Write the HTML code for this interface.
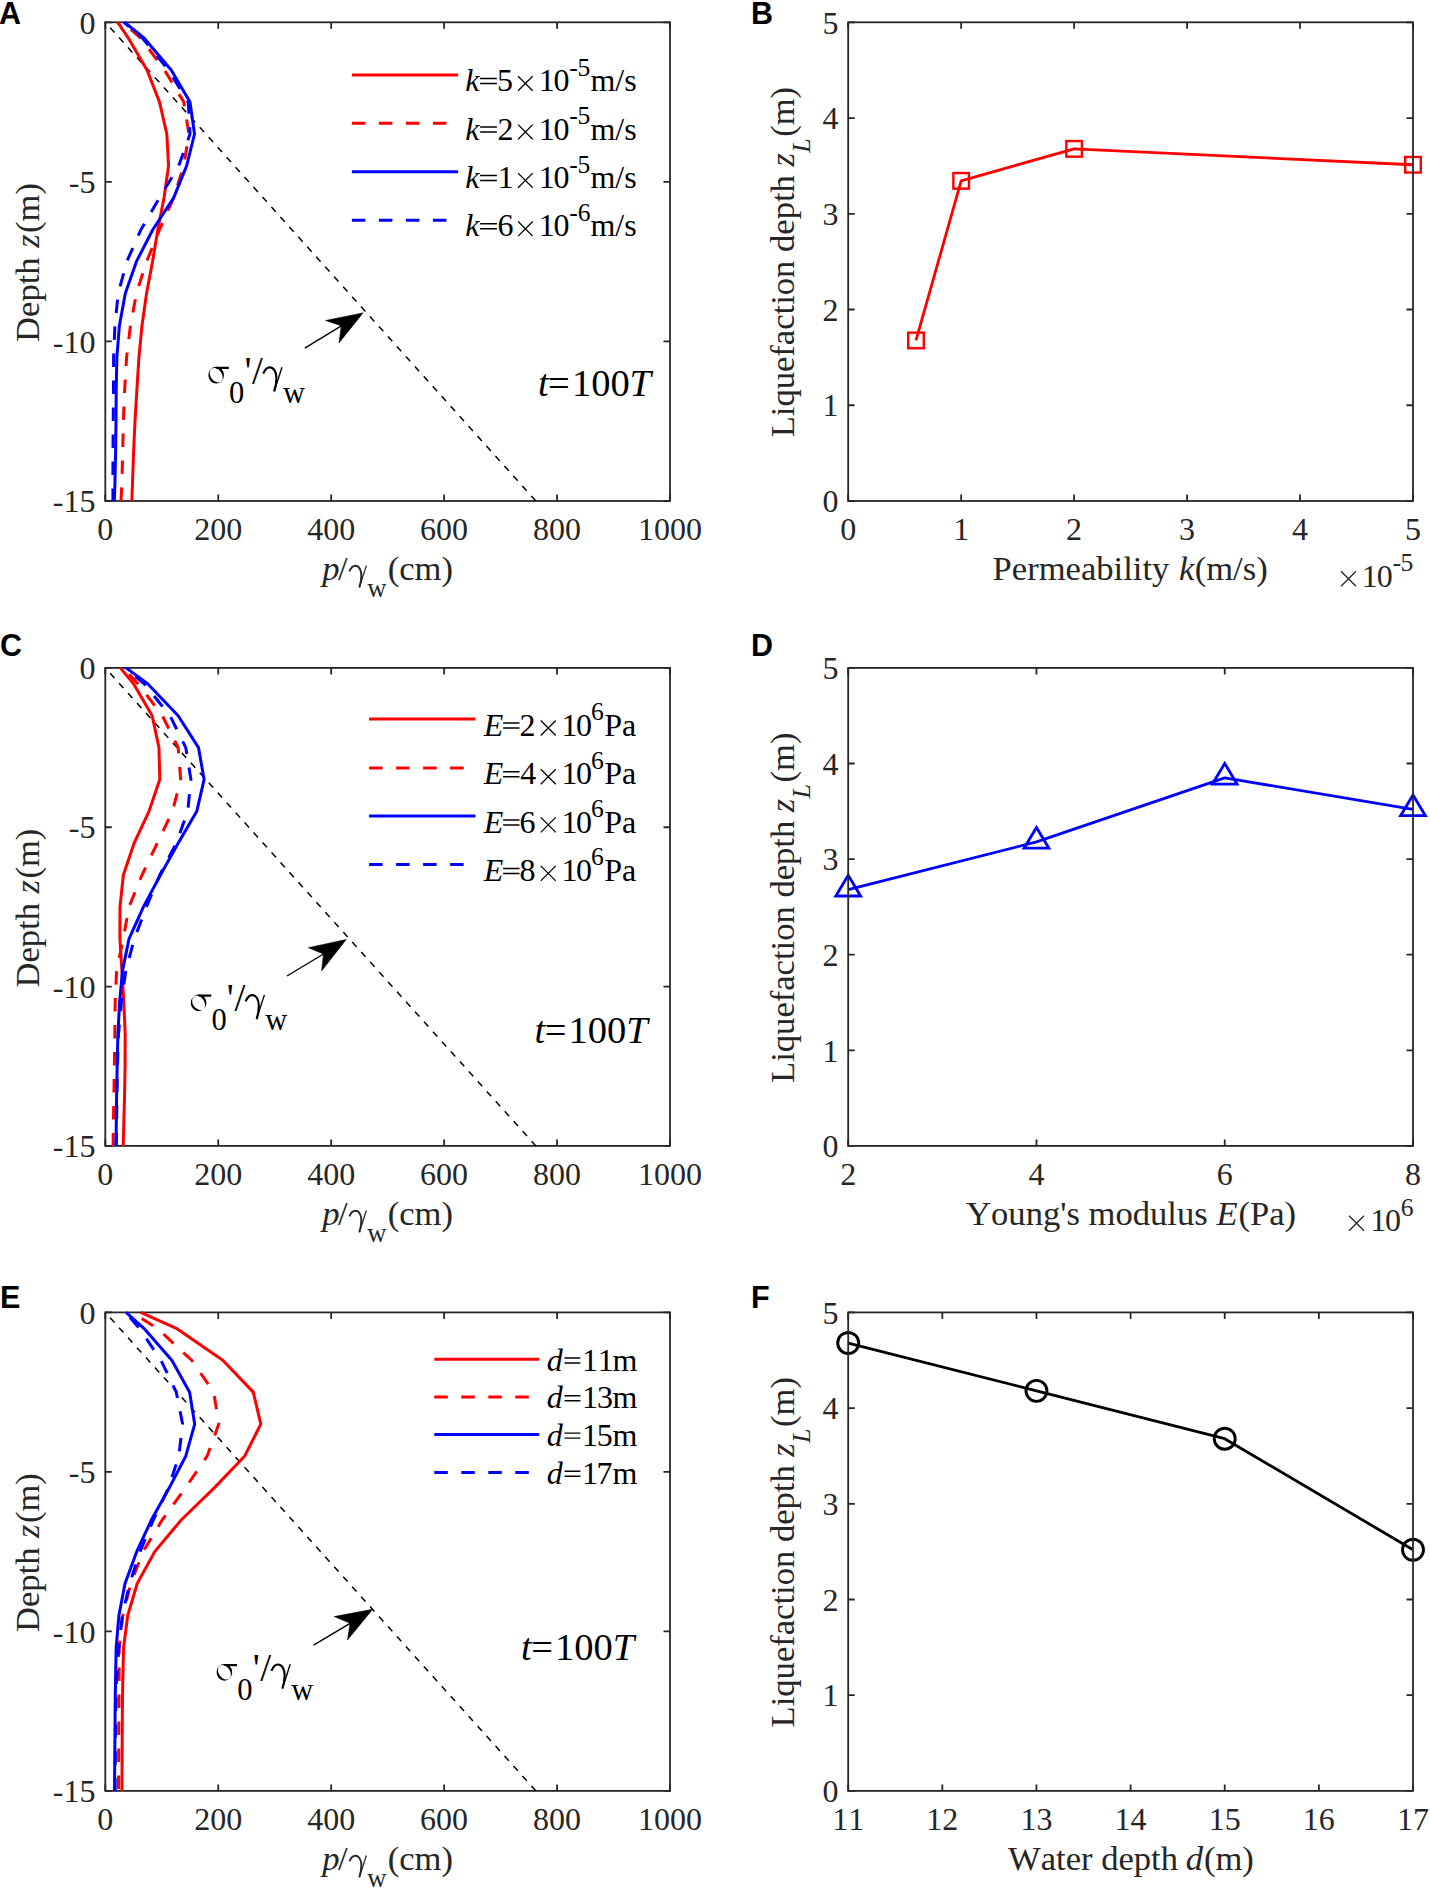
<!DOCTYPE html><html><head><meta charset="utf-8"><style>html,body{margin:0;padding:0;background:#fff;width:1430px;height:1888px;overflow:hidden}svg{display:block}text{font-kerning:none}</style></head><body>
<svg width="1430" height="1888" viewBox="0 0 1430 1888">
<rect width="1430" height="1888" fill="#fff"/>
<text x="-0.96" y="24.10" style='font-family:"Liberation Sans",sans-serif;font-weight:bold;font-size:30.50px' fill="#000">A</text>
<text x="750.96" y="24.10" style='font-family:"Liberation Sans",sans-serif;font-weight:bold;font-size:30.50px' fill="#000">B</text>
<text x="0.05" y="656.20" style='font-family:"Liberation Sans",sans-serif;font-weight:bold;font-size:30.50px' fill="#000">C</text>
<text x="751.06" y="655.80" style='font-family:"Liberation Sans",sans-serif;font-weight:bold;font-size:30.50px' fill="#000">D</text>
<text x="0.06" y="1307.80" style='font-family:"Liberation Sans",sans-serif;font-weight:bold;font-size:30.50px' fill="#000">E</text>
<text x="751.06" y="1307.80" style='font-family:"Liberation Sans",sans-serif;font-weight:bold;font-size:30.50px' fill="#000">F</text>
<rect x="105.30" y="22.30" width="564.70" height="478.70" fill="none" stroke="#262626" stroke-width="1.80"/>
<path d="M105.30 501.00v-6.50M105.30 22.30v6.50M218.24 501.00v-6.50M218.24 22.30v6.50M331.18 501.00v-6.50M331.18 22.30v6.50M444.12 501.00v-6.50M444.12 22.30v6.50M557.06 501.00v-6.50M557.06 22.30v6.50M670.00 501.00v-6.50M670.00 22.30v6.50M105.30 22.30h6.50M670.00 22.30h-6.50M105.30 181.87h6.50M670.00 181.87h-6.50M105.30 341.43h6.50M670.00 341.43h-6.50M105.30 501.00h6.50M670.00 501.00h-6.50" stroke="#262626" stroke-width="1.80" fill="none"/>
<path d="M105.30 22.30 L535.88 501.00" fill="none" stroke="#000" stroke-width="1.50" stroke-linejoin="round" stroke-linecap="butt" stroke-dasharray="6.5 6.9" stroke-dashoffset="6.20"/>
<path d="M117.72 22.30 L128.45 38.26 L147.09 70.17 L159.51 102.08 L166.85 134.00 L168.55 165.91 L164.03 197.82 L157.82 229.74 L152.51 261.65 L146.52 293.56 L142.01 325.48 L138.90 357.39 L136.92 389.30 L135.00 421.22 L133.53 453.13 L132.41 485.04 L131.84 501.00" fill="none" stroke="#ff0000" stroke-width="3.00" stroke-linejoin="round" stroke-linecap="butt"/>
<path d="M122.81 22.30 L140.88 38.26 L164.59 70.17 L183.79 102.08 L188.88 134.00 L183.79 165.91 L173.63 197.82 L159.51 229.74 L146.52 261.65 L136.36 293.56 L130.49 325.48 L126.59 357.39 L124.67 389.30 L123.37 421.22 L122.69 453.13 L121.79 485.04 L121.00 501.00" fill="none" stroke="#ff0000" stroke-width="3.00" stroke-linejoin="round" stroke-linecap="butt" stroke-dasharray="13.5 13.5" stroke-dashoffset="16.20"/>
<path d="M124.78 22.30 L144.26 38.26 L171.37 70.17 L190.00 102.08 L194.52 134.00 L186.62 165.91 L173.63 197.82 L152.73 229.74 L136.36 261.65 L125.29 293.56 L119.42 325.48 L116.88 357.39 L116.20 389.30 L116.03 421.22 L115.58 453.13 L114.90 485.04 L114.34 501.00" fill="none" stroke="#0000ff" stroke-width="3.00" stroke-linejoin="round" stroke-linecap="butt"/>
<path d="M123.94 22.30 L142.57 38.26 L168.55 70.17 L188.31 102.08 L190.00 134.00 L178.71 165.91 L159.51 197.82 L140.88 229.74 L126.76 261.65 L118.18 293.56 L114.90 325.48 L113.60 357.39 L113.49 389.30 L113.21 421.22 L112.98 453.13 L112.92 485.04 L112.92 501.00" fill="none" stroke="#0000ff" stroke-width="3.00" stroke-linejoin="round" stroke-linecap="butt" stroke-dasharray="13.5 13.5" stroke-dashoffset="6.80"/>
<path d="M304.80 348.20L341.30 325.80" stroke="#000" stroke-width="1.4" fill="none"/>
<path d="M363.00 312.90L325.60 320.50L341.30 325.80L339.10 342.80Z" fill="#000" stroke="#000" stroke-width="0.6"/>
<g transform="translate(208.40,383.60)" fill="#000"><path fill-rule="evenodd" d="M7.8 -16.8A7.8 8.4 0 1 0 7.8 0A7.8 8.4 0 1 0 7.8 -16.8ZM7.8 -15.3A4.9 6.9 -35 1 1 7.8 -1.5A4.9 6.9 -35 1 1 7.8 -15.3Z"/><path d="M7 -16.8H20.6L20.3 -14.5L8.2 -14.6Z"/></g>
<text x="229.04" y="402.60" style='font-family:"Liberation Serif",serif;font-size:30.50px' fill="#000">0</text>
<text x="244.46" y="383.60" style='font-family:"Liberation Serif",serif;font-size:39.00px' fill="#000">&#39;</text>
<text x="252.00" y="383.60" style='font-family:"Liberation Serif",serif;font-size:39.00px' fill="#000">/</text>
<g transform="translate(262.90,383.60) scale(1.110)" fill="none" stroke="#000"><path d="M0.3 -8.9C1.8 -12.6 4 -14.6 6.2 -14.6C10 -14.6 12.2 -10 12.2 -5C12.2 0 11 4.5 10.2 7" stroke-width="1.9"/><path d="M17.2 -14.8L10.2 7" stroke-width="1.25"/></g>
<text x="282.97" y="402.60" style='font-family:"Liberation Serif",serif;font-size:30.50px' fill="#000">w</text>
<text x="537.91" y="395.80" style='font-family:"Liberation Serif",serif;font-style:italic;font-size:38.50px' fill="#000">t</text>
<text x="548.08" y="395.80" style='font-family:"Liberation Serif",serif;font-size:38.50px' fill="#000">=</text>
<text x="571.91" y="395.80" style='font-family:"Liberation Serif",serif;font-size:38.50px' fill="#000">100</text>
<text x="629.56" y="395.80" style='font-family:"Liberation Serif",serif;font-style:italic;font-size:38.50px' fill="#000">T</text>
<path d="M351.90 74.90 L458.10 74.90" fill="none" stroke="#ff0000" stroke-width="3.00" stroke-linejoin="round" stroke-linecap="butt"/>
<text x="465.37" y="91.10" style='font-family:"Liberation Serif",serif;font-style:italic;font-size:32.00px' fill="#000">k</text>
<path d="M480.10 78.50H496.90M480.10 83.50H496.90" stroke="#000" stroke-width="1.45" fill="none"/>
<text x="496.94" y="91.10" style='font-family:"Liberation Serif",serif;font-size:32.00px' fill="#000">5</text>
<path d="M518.10 76.20L532.70 90.80M518.10 90.80L532.70 76.20" stroke="#000" stroke-width="1.30" fill="none"/>
<text x="538.78" y="91.10" style='font-family:"Liberation Serif",serif;font-size:32.00px' fill="#000">1</text>
<text x="553.58" y="91.10" style='font-family:"Liberation Serif",serif;font-size:32.00px' fill="#000">0</text>
<text x="569.25" y="75.80" style='font-family:"Liberation Serif",serif;font-size:25.60px' fill="#000">-</text>
<text x="577.42" y="75.80" style='font-family:"Liberation Serif",serif;font-size:25.60px' fill="#000">5</text>
<text x="590.43" y="91.10" style='font-family:"Liberation Serif",serif;font-size:32.00px' fill="#000">m/s</text>
<path d="M351.90 123.30 L458.10 123.30" fill="none" stroke="#ff0000" stroke-width="3.00" stroke-linejoin="round" stroke-linecap="butt" stroke-dasharray="13.5 13.5"/>
<text x="465.37" y="139.50" style='font-family:"Liberation Serif",serif;font-style:italic;font-size:32.00px' fill="#000">k</text>
<path d="M480.10 126.90H496.90M480.10 131.90H496.90" stroke="#000" stroke-width="1.45" fill="none"/>
<text x="497.39" y="139.50" style='font-family:"Liberation Serif",serif;font-size:32.00px' fill="#000">2</text>
<path d="M518.10 124.60L532.70 139.20M518.10 139.20L532.70 124.60" stroke="#000" stroke-width="1.30" fill="none"/>
<text x="538.78" y="139.50" style='font-family:"Liberation Serif",serif;font-size:32.00px' fill="#000">1</text>
<text x="553.58" y="139.50" style='font-family:"Liberation Serif",serif;font-size:32.00px' fill="#000">0</text>
<text x="569.25" y="124.20" style='font-family:"Liberation Serif",serif;font-size:25.60px' fill="#000">-</text>
<text x="577.42" y="124.20" style='font-family:"Liberation Serif",serif;font-size:25.60px' fill="#000">5</text>
<text x="590.43" y="139.50" style='font-family:"Liberation Serif",serif;font-size:32.00px' fill="#000">m/s</text>
<path d="M351.90 171.80 L458.10 171.80" fill="none" stroke="#0000ff" stroke-width="3.00" stroke-linejoin="round" stroke-linecap="butt"/>
<text x="465.37" y="188.00" style='font-family:"Liberation Serif",serif;font-style:italic;font-size:32.00px' fill="#000">k</text>
<path d="M480.10 175.40H496.90M480.10 180.40H496.90" stroke="#000" stroke-width="1.45" fill="none"/>
<text x="497.68" y="188.00" style='font-family:"Liberation Serif",serif;font-size:32.00px' fill="#000">1</text>
<path d="M518.10 173.10L532.70 187.70M518.10 187.70L532.70 173.10" stroke="#000" stroke-width="1.30" fill="none"/>
<text x="538.78" y="188.00" style='font-family:"Liberation Serif",serif;font-size:32.00px' fill="#000">1</text>
<text x="553.58" y="188.00" style='font-family:"Liberation Serif",serif;font-size:32.00px' fill="#000">0</text>
<text x="569.25" y="172.70" style='font-family:"Liberation Serif",serif;font-size:25.60px' fill="#000">-</text>
<text x="577.42" y="172.70" style='font-family:"Liberation Serif",serif;font-size:25.60px' fill="#000">5</text>
<text x="590.43" y="188.00" style='font-family:"Liberation Serif",serif;font-size:32.00px' fill="#000">m/s</text>
<path d="M351.90 220.20 L458.10 220.20" fill="none" stroke="#0000ff" stroke-width="3.00" stroke-linejoin="round" stroke-linecap="butt" stroke-dasharray="13.5 13.5"/>
<text x="465.37" y="236.40" style='font-family:"Liberation Serif",serif;font-style:italic;font-size:32.00px' fill="#000">k</text>
<path d="M480.10 223.80H496.90M480.10 228.80H496.90" stroke="#000" stroke-width="1.45" fill="none"/>
<text x="497.42" y="236.40" style='font-family:"Liberation Serif",serif;font-size:32.00px' fill="#000">6</text>
<path d="M518.10 221.50L532.70 236.10M518.10 236.10L532.70 221.50" stroke="#000" stroke-width="1.30" fill="none"/>
<text x="538.78" y="236.40" style='font-family:"Liberation Serif",serif;font-size:32.00px' fill="#000">1</text>
<text x="553.58" y="236.40" style='font-family:"Liberation Serif",serif;font-size:32.00px' fill="#000">0</text>
<text x="569.25" y="221.10" style='font-family:"Liberation Serif",serif;font-size:25.60px' fill="#000">-</text>
<text x="577.80" y="221.10" style='font-family:"Liberation Serif",serif;font-size:25.60px' fill="#000">6</text>
<text x="590.43" y="236.40" style='font-family:"Liberation Serif",serif;font-size:32.00px' fill="#000">m/s</text>
<text x="105.30" y="540.20" style='font-family:"Liberation Serif",serif;font-size:32.00px' fill="#262626" text-anchor="middle">0</text>
<text x="218.24" y="540.20" style='font-family:"Liberation Serif",serif;font-size:32.00px' fill="#262626" text-anchor="middle">200</text>
<text x="331.18" y="540.20" style='font-family:"Liberation Serif",serif;font-size:32.00px' fill="#262626" text-anchor="middle">400</text>
<text x="444.12" y="540.20" style='font-family:"Liberation Serif",serif;font-size:32.00px' fill="#262626" text-anchor="middle">600</text>
<text x="557.06" y="540.20" style='font-family:"Liberation Serif",serif;font-size:32.00px' fill="#262626" text-anchor="middle">800</text>
<text x="670.00" y="540.20" style='font-family:"Liberation Serif",serif;font-size:32.00px' fill="#262626" text-anchor="middle">1000</text>
<text x="95.50" y="33.50" style='font-family:"Liberation Serif",serif;font-size:32.00px' fill="#262626" text-anchor="end">0</text>
<text x="95.50" y="193.07" style='font-family:"Liberation Serif",serif;font-size:32.00px' fill="#262626" text-anchor="end">-5</text>
<text x="95.50" y="352.63" style='font-family:"Liberation Serif",serif;font-size:32.00px' fill="#262626" text-anchor="end">-10</text>
<text x="95.50" y="512.20" style='font-family:"Liberation Serif",serif;font-size:32.00px' fill="#262626" text-anchor="end">-15</text>
<text x="322.24" y="580.40" style='font-family:"Liberation Serif",serif;font-style:italic;font-size:34.60px' fill="#262626">p</text>
<text x="338.00" y="580.40" style='font-family:"Liberation Serif",serif;font-size:34.60px' fill="#262626">/</text>
<g transform="translate(349.15,580.40) scale(1.000)" fill="none" stroke="#262626"><path d="M0.3 -8.9C1.8 -12.6 4 -14.6 6.2 -14.6C10 -14.6 12.2 -10 12.2 -5C12.2 0 11 4.5 10.2 7" stroke-width="1.9"/><path d="M17.2 -14.8L10.2 7" stroke-width="1.25"/></g>
<text x="367.17" y="597.00" style='font-family:"Liberation Serif",serif;font-size:26.60px' fill="#262626">w</text>
<text x="387.68" y="580.40" style='font-family:"Liberation Serif",serif;font-size:34.60px' fill="#262626">(cm)</text>
<text transform="translate(38.80,341.90) rotate(-90)" style='font-family:"Liberation Serif",serif;font-size:34.60px' fill="#262626">Depth</text>
<text transform="translate(38.80,247.82) rotate(-90)" style='font-family:"Liberation Serif",serif;font-style:italic;font-size:34.60px' fill="#262626">z</text>
<text transform="translate(38.80,233.02) rotate(-90)" style='font-family:"Liberation Serif",serif;font-size:34.60px' fill="#262626">(m)</text>
<path d="M915.98 340.44 L961.16 180.85 L1074.12 148.87 L1413.00 164.76" fill="none" stroke="#ff0000" stroke-width="2.80" stroke-linejoin="round" stroke-linecap="butt"/>
<rect x="908.18" y="332.64" width="15.6" height="15.6" fill="none" stroke="#ff0000" stroke-width="2.4"/>
<rect x="953.36" y="173.05" width="15.6" height="15.6" fill="none" stroke="#ff0000" stroke-width="2.4"/>
<rect x="1066.32" y="141.07" width="15.6" height="15.6" fill="none" stroke="#ff0000" stroke-width="2.4"/>
<rect x="1405.20" y="156.96" width="15.6" height="15.6" fill="none" stroke="#ff0000" stroke-width="2.4"/>
<rect x="848.20" y="22.30" width="564.80" height="478.70" fill="none" stroke="#262626" stroke-width="1.80"/>
<path d="M848.20 501.00v-6.50M848.20 22.30v6.50M961.16 501.00v-6.50M961.16 22.30v6.50M1074.12 501.00v-6.50M1074.12 22.30v6.50M1187.08 501.00v-6.50M1187.08 22.30v6.50M1300.04 501.00v-6.50M1300.04 22.30v6.50M1413.00 501.00v-6.50M1413.00 22.30v6.50M848.20 501.00h6.50M1413.00 501.00h-6.50M848.20 405.26h6.50M1413.00 405.26h-6.50M848.20 309.52h6.50M1413.00 309.52h-6.50M848.20 213.78h6.50M1413.00 213.78h-6.50M848.20 118.04h6.50M1413.00 118.04h-6.50M848.20 22.30h6.50M1413.00 22.30h-6.50" stroke="#262626" stroke-width="1.80" fill="none"/>
<text x="848.20" y="540.20" style='font-family:"Liberation Serif",serif;font-size:32.00px' fill="#262626" text-anchor="middle">0</text>
<text x="961.16" y="540.20" style='font-family:"Liberation Serif",serif;font-size:32.00px' fill="#262626" text-anchor="middle">1</text>
<text x="1074.12" y="540.20" style='font-family:"Liberation Serif",serif;font-size:32.00px' fill="#262626" text-anchor="middle">2</text>
<text x="1187.08" y="540.20" style='font-family:"Liberation Serif",serif;font-size:32.00px' fill="#262626" text-anchor="middle">3</text>
<text x="1300.04" y="540.20" style='font-family:"Liberation Serif",serif;font-size:32.00px' fill="#262626" text-anchor="middle">4</text>
<text x="1413.00" y="540.20" style='font-family:"Liberation Serif",serif;font-size:32.00px' fill="#262626" text-anchor="middle">5</text>
<text x="838.40" y="512.20" style='font-family:"Liberation Serif",serif;font-size:32.00px' fill="#262626" text-anchor="end">0</text>
<text x="838.40" y="416.46" style='font-family:"Liberation Serif",serif;font-size:32.00px' fill="#262626" text-anchor="end">1</text>
<text x="838.40" y="320.72" style='font-family:"Liberation Serif",serif;font-size:32.00px' fill="#262626" text-anchor="end">2</text>
<text x="838.40" y="224.98" style='font-family:"Liberation Serif",serif;font-size:32.00px' fill="#262626" text-anchor="end">3</text>
<text x="838.40" y="129.24" style='font-family:"Liberation Serif",serif;font-size:32.00px' fill="#262626" text-anchor="end">4</text>
<text x="838.40" y="33.50" style='font-family:"Liberation Serif",serif;font-size:32.00px' fill="#262626" text-anchor="end">5</text>
<text transform="translate(793.80,437.30) rotate(-90)" style='font-family:"Liberation Serif",serif;font-size:34.60px' fill="#262626">Liquefaction depth</text>
<text transform="translate(793.80,166.62) rotate(-90)" style='font-family:"Liberation Serif",serif;font-style:italic;font-size:34.60px' fill="#262626">z</text>
<text transform="translate(810.20,152.79) rotate(-90)" style='font-family:"Liberation Serif",serif;font-style:italic;font-size:26.10px' fill="#262626">L</text>
<text transform="translate(793.80,136.82) rotate(-90)" style='font-family:"Liberation Serif",serif;font-size:34.60px' fill="#262626">(m)</text>
<text x="992.60" y="579.80" style='font-family:"Liberation Serif",serif;font-size:34.60px' fill="#262626">Permeability</text>
<text x="1178.90" y="579.80" style='font-family:"Liberation Serif",serif;font-style:italic;font-size:34.60px' fill="#262626">k</text>
<text x="1194.68" y="579.80" style='font-family:"Liberation Serif",serif;font-size:34.60px' fill="#262626">(m/s)</text>
<path d="M1341.00 571.20L1356.00 586.20M1341.00 586.20L1356.00 571.20" stroke="#262626" stroke-width="1.30" fill="none"/>
<text x="1361.78" y="586.60" style='font-family:"Liberation Serif",serif;font-size:32.00px' fill="#262626">1</text>
<text x="1376.78" y="586.60" style='font-family:"Liberation Serif",serif;font-size:32.00px' fill="#262626">0</text>
<text x="1392.55" y="571.20" style='font-family:"Liberation Serif",serif;font-size:25.60px' fill="#262626">-</text>
<text x="1400.42" y="571.20" style='font-family:"Liberation Serif",serif;font-size:25.60px' fill="#262626">5</text>
<rect x="105.30" y="667.90" width="564.70" height="478.00" fill="none" stroke="#262626" stroke-width="1.80"/>
<path d="M105.30 1145.90v-6.50M105.30 667.90v6.50M218.24 1145.90v-6.50M218.24 667.90v6.50M331.18 1145.90v-6.50M331.18 667.90v6.50M444.12 1145.90v-6.50M444.12 667.90v6.50M557.06 1145.90v-6.50M557.06 667.90v6.50M670.00 1145.90v-6.50M670.00 667.90v6.50M105.30 667.90h6.50M670.00 667.90h-6.50M105.30 827.23h6.50M670.00 827.23h-6.50M105.30 986.57h6.50M670.00 986.57h-6.50M105.30 1145.90h6.50M670.00 1145.90h-6.50" stroke="#262626" stroke-width="1.80" fill="none"/>
<path d="M105.30 667.90 L535.88 1145.90" fill="none" stroke="#000" stroke-width="1.50" stroke-linejoin="round" stroke-linecap="butt" stroke-dasharray="6.5 6.9" stroke-dashoffset="6.20"/>
<path d="M120.32 667.90 L133.53 683.83 L152.17 715.70 L158.95 747.57 L159.79 779.43 L149.01 811.30 L134.10 843.17 L123.37 875.03 L119.98 906.90 L119.87 938.77 L121.90 970.63 L123.82 1002.50 L125.18 1034.37 L125.06 1066.23 L124.50 1098.10 L123.65 1129.97 L123.20 1145.90" fill="none" stroke="#ff0000" stroke-width="3.00" stroke-linejoin="round" stroke-linecap="butt"/>
<path d="M122.81 667.90 L138.05 683.83 L162.33 715.70 L178.15 747.57 L180.69 779.43 L172.50 811.30 L157.25 843.17 L142.01 875.03 L129.02 906.90 L123.20 938.77 L116.59 970.63 L115.18 1002.50 L114.79 1034.37 L114.34 1066.23 L113.88 1098.10 L113.21 1129.97 L113.21 1145.90" fill="none" stroke="#ff0000" stroke-width="3.00" stroke-linejoin="round" stroke-linecap="butt" stroke-dasharray="13.5 13.5" stroke-dashoffset="18.00"/>
<path d="M126.08 667.90 L147.65 683.83 L178.15 715.70 L198.48 747.57 L204.12 779.43 L196.78 811.30 L178.15 843.17 L160.41 875.03 L143.42 906.90 L129.02 938.77 L122.52 970.63 L119.59 1002.50 L117.89 1034.37 L117.16 1066.23 L116.59 1098.10 L116.20 1129.97 L115.92 1145.90" fill="none" stroke="#0000ff" stroke-width="3.00" stroke-linejoin="round" stroke-linecap="butt"/>
<path d="M124.50 667.90 L144.26 683.83 L170.01 715.70 L185.77 747.57 L190.91 779.43 L187.75 811.30 L176.28 843.17 L159.79 875.03 L146.41 906.90 L134.38 938.77 L125.80 970.63 L121.22 1002.50 L118.51 1034.37 L117.44 1066.23 L116.88 1098.10 L116.59 1129.97 L116.31 1145.90" fill="none" stroke="#0000ff" stroke-width="3.00" stroke-linejoin="round" stroke-linecap="butt" stroke-dasharray="13.5 13.5" stroke-dashoffset="13.00"/>
<path d="M287.00 976.00L323.50 954.00" stroke="#000" stroke-width="1.4" fill="none"/>
<path d="M346.20 939.50L308.40 947.70L323.50 954.00L321.60 970.90Z" fill="#000" stroke="#000" stroke-width="0.6"/>
<g transform="translate(190.80,1011.30)" fill="#000"><path fill-rule="evenodd" d="M7.8 -16.8A7.8 8.4 0 1 0 7.8 0A7.8 8.4 0 1 0 7.8 -16.8ZM7.8 -15.3A4.9 6.9 -35 1 1 7.8 -1.5A4.9 6.9 -35 1 1 7.8 -15.3Z"/><path d="M7 -16.8H20.6L20.3 -14.5L8.2 -14.6Z"/></g>
<text x="211.44" y="1030.30" style='font-family:"Liberation Serif",serif;font-size:30.50px' fill="#000">0</text>
<text x="226.86" y="1011.30" style='font-family:"Liberation Serif",serif;font-size:39.00px' fill="#000">&#39;</text>
<text x="234.40" y="1011.30" style='font-family:"Liberation Serif",serif;font-size:39.00px' fill="#000">/</text>
<g transform="translate(245.30,1011.30) scale(1.110)" fill="none" stroke="#000"><path d="M0.3 -8.9C1.8 -12.6 4 -14.6 6.2 -14.6C10 -14.6 12.2 -10 12.2 -5C12.2 0 11 4.5 10.2 7" stroke-width="1.9"/><path d="M17.2 -14.8L10.2 7" stroke-width="1.25"/></g>
<text x="265.37" y="1030.30" style='font-family:"Liberation Serif",serif;font-size:30.50px' fill="#000">w</text>
<text x="534.51" y="1042.70" style='font-family:"Liberation Serif",serif;font-style:italic;font-size:38.50px' fill="#000">t</text>
<text x="544.68" y="1042.70" style='font-family:"Liberation Serif",serif;font-size:38.50px' fill="#000">=</text>
<text x="568.51" y="1042.70" style='font-family:"Liberation Serif",serif;font-size:38.50px' fill="#000">100</text>
<text x="626.16" y="1042.70" style='font-family:"Liberation Serif",serif;font-style:italic;font-size:38.50px' fill="#000">T</text>
<path d="M369.10 719.10 L475.40 719.10" fill="none" stroke="#ff0000" stroke-width="3.00" stroke-linejoin="round" stroke-linecap="butt"/>
<text x="483.68" y="735.60" style='font-family:"Liberation Serif",serif;font-style:italic;font-size:32.00px' fill="#000">E</text>
<path d="M503.10 723.00H519.50M503.10 728.00H519.50" stroke="#000" stroke-width="1.45" fill="none"/>
<text x="519.39" y="735.60" style='font-family:"Liberation Serif",serif;font-size:32.00px' fill="#000">2</text>
<path d="M540.75 720.45L555.75 735.45M540.75 735.45L555.75 720.45" stroke="#000" stroke-width="1.30" fill="none"/>
<text x="561.38" y="735.60" style='font-family:"Liberation Serif",serif;font-size:32.00px' fill="#000">1</text>
<text x="575.98" y="735.60" style='font-family:"Liberation Serif",serif;font-size:32.00px' fill="#000">0</text>
<text x="591.00" y="719.90" style='font-family:"Liberation Serif",serif;font-size:25.60px' fill="#000">6</text>
<text x="604.27" y="735.60" style='font-family:"Liberation Serif",serif;font-size:32.00px' fill="#000">Pa</text>
<path d="M369.10 767.90 L475.40 767.90" fill="none" stroke="#ff0000" stroke-width="3.00" stroke-linejoin="round" stroke-linecap="butt" stroke-dasharray="13.5 13.5"/>
<text x="483.68" y="784.40" style='font-family:"Liberation Serif",serif;font-style:italic;font-size:32.00px' fill="#000">E</text>
<path d="M503.10 771.80H519.50M503.10 776.80H519.50" stroke="#000" stroke-width="1.45" fill="none"/>
<text x="520.16" y="784.40" style='font-family:"Liberation Serif",serif;font-size:32.00px' fill="#000">4</text>
<path d="M540.75 769.25L555.75 784.25M540.75 784.25L555.75 769.25" stroke="#000" stroke-width="1.30" fill="none"/>
<text x="561.38" y="784.40" style='font-family:"Liberation Serif",serif;font-size:32.00px' fill="#000">1</text>
<text x="575.98" y="784.40" style='font-family:"Liberation Serif",serif;font-size:32.00px' fill="#000">0</text>
<text x="591.00" y="768.70" style='font-family:"Liberation Serif",serif;font-size:25.60px' fill="#000">6</text>
<text x="604.27" y="784.40" style='font-family:"Liberation Serif",serif;font-size:32.00px' fill="#000">Pa</text>
<path d="M369.10 816.00 L475.40 816.00" fill="none" stroke="#0000ff" stroke-width="3.00" stroke-linejoin="round" stroke-linecap="butt"/>
<text x="483.68" y="832.50" style='font-family:"Liberation Serif",serif;font-style:italic;font-size:32.00px' fill="#000">E</text>
<path d="M503.10 819.90H519.50M503.10 824.90H519.50" stroke="#000" stroke-width="1.45" fill="none"/>
<text x="519.42" y="832.50" style='font-family:"Liberation Serif",serif;font-size:32.00px' fill="#000">6</text>
<path d="M540.75 817.35L555.75 832.35M540.75 832.35L555.75 817.35" stroke="#000" stroke-width="1.30" fill="none"/>
<text x="561.38" y="832.50" style='font-family:"Liberation Serif",serif;font-size:32.00px' fill="#000">1</text>
<text x="575.98" y="832.50" style='font-family:"Liberation Serif",serif;font-size:32.00px' fill="#000">0</text>
<text x="591.00" y="816.80" style='font-family:"Liberation Serif",serif;font-size:25.60px' fill="#000">6</text>
<text x="604.27" y="832.50" style='font-family:"Liberation Serif",serif;font-size:32.00px' fill="#000">Pa</text>
<path d="M369.10 864.50 L475.40 864.50" fill="none" stroke="#0000ff" stroke-width="3.00" stroke-linejoin="round" stroke-linecap="butt" stroke-dasharray="13.5 13.5"/>
<text x="483.68" y="881.00" style='font-family:"Liberation Serif",serif;font-style:italic;font-size:32.00px' fill="#000">E</text>
<path d="M503.10 868.40H519.50M503.10 873.40H519.50" stroke="#000" stroke-width="1.45" fill="none"/>
<text x="519.58" y="881.00" style='font-family:"Liberation Serif",serif;font-size:32.00px' fill="#000">8</text>
<path d="M540.75 865.85L555.75 880.85M540.75 880.85L555.75 865.85" stroke="#000" stroke-width="1.30" fill="none"/>
<text x="561.38" y="881.00" style='font-family:"Liberation Serif",serif;font-size:32.00px' fill="#000">1</text>
<text x="575.98" y="881.00" style='font-family:"Liberation Serif",serif;font-size:32.00px' fill="#000">0</text>
<text x="591.00" y="865.30" style='font-family:"Liberation Serif",serif;font-size:25.60px' fill="#000">6</text>
<text x="604.27" y="881.00" style='font-family:"Liberation Serif",serif;font-size:32.00px' fill="#000">Pa</text>
<text x="105.30" y="1185.10" style='font-family:"Liberation Serif",serif;font-size:32.00px' fill="#262626" text-anchor="middle">0</text>
<text x="218.24" y="1185.10" style='font-family:"Liberation Serif",serif;font-size:32.00px' fill="#262626" text-anchor="middle">200</text>
<text x="331.18" y="1185.10" style='font-family:"Liberation Serif",serif;font-size:32.00px' fill="#262626" text-anchor="middle">400</text>
<text x="444.12" y="1185.10" style='font-family:"Liberation Serif",serif;font-size:32.00px' fill="#262626" text-anchor="middle">600</text>
<text x="557.06" y="1185.10" style='font-family:"Liberation Serif",serif;font-size:32.00px' fill="#262626" text-anchor="middle">800</text>
<text x="670.00" y="1185.10" style='font-family:"Liberation Serif",serif;font-size:32.00px' fill="#262626" text-anchor="middle">1000</text>
<text x="95.50" y="679.10" style='font-family:"Liberation Serif",serif;font-size:32.00px' fill="#262626" text-anchor="end">0</text>
<text x="95.50" y="838.43" style='font-family:"Liberation Serif",serif;font-size:32.00px' fill="#262626" text-anchor="end">-5</text>
<text x="95.50" y="997.77" style='font-family:"Liberation Serif",serif;font-size:32.00px' fill="#262626" text-anchor="end">-10</text>
<text x="95.50" y="1157.10" style='font-family:"Liberation Serif",serif;font-size:32.00px' fill="#262626" text-anchor="end">-15</text>
<text x="322.24" y="1225.30" style='font-family:"Liberation Serif",serif;font-style:italic;font-size:34.60px' fill="#262626">p</text>
<text x="338.00" y="1225.30" style='font-family:"Liberation Serif",serif;font-size:34.60px' fill="#262626">/</text>
<g transform="translate(349.15,1225.30) scale(1.000)" fill="none" stroke="#262626"><path d="M0.3 -8.9C1.8 -12.6 4 -14.6 6.2 -14.6C10 -14.6 12.2 -10 12.2 -5C12.2 0 11 4.5 10.2 7" stroke-width="1.9"/><path d="M17.2 -14.8L10.2 7" stroke-width="1.25"/></g>
<text x="367.17" y="1241.90" style='font-family:"Liberation Serif",serif;font-size:26.60px' fill="#262626">w</text>
<text x="387.68" y="1225.30" style='font-family:"Liberation Serif",serif;font-size:34.60px' fill="#262626">(cm)</text>
<text transform="translate(38.80,987.50) rotate(-90)" style='font-family:"Liberation Serif",serif;font-size:34.60px' fill="#262626">Depth</text>
<text transform="translate(38.80,893.42) rotate(-90)" style='font-family:"Liberation Serif",serif;font-style:italic;font-size:34.60px' fill="#262626">z</text>
<text transform="translate(38.80,878.62) rotate(-90)" style='font-family:"Liberation Serif",serif;font-size:34.60px' fill="#262626">(m)</text>
<path d="M848.20 889.69 L1036.47 841.89 L1224.73 777.84 L1413.00 809.39" fill="none" stroke="#0000ff" stroke-width="2.80" stroke-linejoin="round" stroke-linecap="butt"/>
<path d="M848.20 875.29L860.60 895.99L835.80 895.99Z" fill="none" stroke="#0000ff" stroke-width="2.8" stroke-linejoin="miter"/>
<path d="M1036.47 827.49L1048.87 848.19L1024.07 848.19Z" fill="none" stroke="#0000ff" stroke-width="2.8" stroke-linejoin="miter"/>
<path d="M1224.73 763.44L1237.13 784.14L1212.33 784.14Z" fill="none" stroke="#0000ff" stroke-width="2.8" stroke-linejoin="miter"/>
<path d="M1413.00 794.99L1425.40 815.69L1400.60 815.69Z" fill="none" stroke="#0000ff" stroke-width="2.8" stroke-linejoin="miter"/>
<rect x="848.20" y="667.90" width="564.80" height="478.00" fill="none" stroke="#262626" stroke-width="1.80"/>
<path d="M848.20 1145.90v-6.50M848.20 667.90v6.50M1036.47 1145.90v-6.50M1036.47 667.90v6.50M1224.73 1145.90v-6.50M1224.73 667.90v6.50M1413.00 1145.90v-6.50M1413.00 667.90v6.50M848.20 1145.90h6.50M1413.00 1145.90h-6.50M848.20 1050.30h6.50M1413.00 1050.30h-6.50M848.20 954.70h6.50M1413.00 954.70h-6.50M848.20 859.10h6.50M1413.00 859.10h-6.50M848.20 763.50h6.50M1413.00 763.50h-6.50M848.20 667.90h6.50M1413.00 667.90h-6.50" stroke="#262626" stroke-width="1.80" fill="none"/>
<text x="848.20" y="1185.10" style='font-family:"Liberation Serif",serif;font-size:32.00px' fill="#262626" text-anchor="middle">2</text>
<text x="1036.47" y="1185.10" style='font-family:"Liberation Serif",serif;font-size:32.00px' fill="#262626" text-anchor="middle">4</text>
<text x="1224.73" y="1185.10" style='font-family:"Liberation Serif",serif;font-size:32.00px' fill="#262626" text-anchor="middle">6</text>
<text x="1413.00" y="1185.10" style='font-family:"Liberation Serif",serif;font-size:32.00px' fill="#262626" text-anchor="middle">8</text>
<text x="838.40" y="1157.10" style='font-family:"Liberation Serif",serif;font-size:32.00px' fill="#262626" text-anchor="end">0</text>
<text x="838.40" y="1061.50" style='font-family:"Liberation Serif",serif;font-size:32.00px' fill="#262626" text-anchor="end">1</text>
<text x="838.40" y="965.90" style='font-family:"Liberation Serif",serif;font-size:32.00px' fill="#262626" text-anchor="end">2</text>
<text x="838.40" y="870.30" style='font-family:"Liberation Serif",serif;font-size:32.00px' fill="#262626" text-anchor="end">3</text>
<text x="838.40" y="774.70" style='font-family:"Liberation Serif",serif;font-size:32.00px' fill="#262626" text-anchor="end">4</text>
<text x="838.40" y="679.10" style='font-family:"Liberation Serif",serif;font-size:32.00px' fill="#262626" text-anchor="end">5</text>
<text transform="translate(793.80,1082.90) rotate(-90)" style='font-family:"Liberation Serif",serif;font-size:34.60px' fill="#262626">Liquefaction depth</text>
<text transform="translate(793.80,812.22) rotate(-90)" style='font-family:"Liberation Serif",serif;font-style:italic;font-size:34.60px' fill="#262626">z</text>
<text transform="translate(810.20,798.39) rotate(-90)" style='font-family:"Liberation Serif",serif;font-style:italic;font-size:26.10px' fill="#262626">L</text>
<text transform="translate(793.80,782.42) rotate(-90)" style='font-family:"Liberation Serif",serif;font-size:34.60px' fill="#262626">(m)</text>
<text x="966.12" y="1224.70" style='font-family:"Liberation Serif",serif;font-size:34.60px' fill="#262626">Young&#39;s modulus</text>
<text x="1216.62" y="1224.70" style='font-family:"Liberation Serif",serif;font-style:italic;font-size:34.60px' fill="#262626">E</text>
<text x="1238.48" y="1224.70" style='font-family:"Liberation Serif",serif;font-size:34.60px' fill="#262626">(Pa)</text>
<path d="M1349.00 1215.80L1364.00 1230.80M1349.00 1230.80L1364.00 1215.80" stroke="#262626" stroke-width="1.30" fill="none"/>
<text x="1370.28" y="1231.20" style='font-family:"Liberation Serif",serif;font-size:32.00px' fill="#262626">1</text>
<text x="1384.98" y="1231.20" style='font-family:"Liberation Serif",serif;font-size:32.00px' fill="#262626">0</text>
<text x="1400.80" y="1215.80" style='font-family:"Liberation Serif",serif;font-size:25.60px' fill="#262626">6</text>
<rect x="105.30" y="1312.40" width="564.70" height="478.50" fill="none" stroke="#262626" stroke-width="1.80"/>
<path d="M105.30 1790.90v-6.50M105.30 1312.40v6.50M218.24 1790.90v-6.50M218.24 1312.40v6.50M331.18 1790.90v-6.50M331.18 1312.40v6.50M444.12 1790.90v-6.50M444.12 1312.40v6.50M557.06 1790.90v-6.50M557.06 1312.40v6.50M670.00 1790.90v-6.50M670.00 1312.40v6.50M105.30 1312.40h6.50M670.00 1312.40h-6.50M105.30 1471.90h6.50M670.00 1471.90h-6.50M105.30 1631.40h6.50M670.00 1631.40h-6.50M105.30 1790.90h6.50M670.00 1790.90h-6.50" stroke="#262626" stroke-width="1.80" fill="none"/>
<path d="M105.30 1312.40 L535.88 1790.90" fill="none" stroke="#000" stroke-width="1.50" stroke-linejoin="round" stroke-linecap="butt" stroke-dasharray="6.5 6.9" stroke-dashoffset="6.20"/>
<path d="M140.71 1312.40 L176.28 1328.35 L222.76 1360.25 L253.25 1392.15 L260.82 1424.05 L244.78 1455.95 L214.29 1487.85 L181.42 1519.75 L154.71 1551.65 L137.21 1583.55 L127.72 1615.45 L123.60 1647.35 L122.81 1679.25 L122.35 1711.15 L122.18 1743.05 L122.02 1774.95 L121.90 1790.90" fill="none" stroke="#ff0000" stroke-width="3.00" stroke-linejoin="round" stroke-linecap="butt"/>
<path d="M131.84 1312.40 L157.25 1328.35 L191.70 1360.25 L213.72 1392.15 L218.80 1424.05 L207.23 1455.95 L185.49 1487.85 L162.33 1519.75 L143.13 1551.65 L130.71 1583.55 L122.81 1615.45 L119.14 1647.35 L119.14 1679.25 L118.85 1711.15 L118.68 1743.05 L118.57 1774.95 L118.51 1790.90" fill="none" stroke="#ff0000" stroke-width="3.00" stroke-linejoin="round" stroke-linecap="butt" stroke-dasharray="13.5 13.5" stroke-dashoffset="15.40"/>
<path d="M126.08 1312.40 L143.87 1328.35 L171.82 1360.25 L189.61 1392.15 L194.69 1424.05 L185.83 1455.95 L169.28 1487.85 L151.49 1519.75 L136.70 1551.65 L125.01 1583.55 L118.91 1615.45 L116.20 1647.35 L115.52 1679.25 L115.13 1711.15 L114.90 1743.05 L114.62 1774.95 L114.62 1790.90" fill="none" stroke="#0000ff" stroke-width="3.00" stroke-linejoin="round" stroke-linecap="butt"/>
<path d="M125.57 1312.40 L139.41 1328.35 L160.98 1360.25 L176.28 1392.15 L182.61 1424.05 L178.82 1455.95 L168.60 1487.85 L153.41 1519.75 L140.03 1551.65 L129.70 1583.55 L122.30 1615.45 L118.91 1647.35 L116.59 1679.25 L115.75 1711.15 L115.46 1743.05 L115.18 1774.95 L115.18 1790.90" fill="none" stroke="#0000ff" stroke-width="3.00" stroke-linejoin="round" stroke-linecap="butt" stroke-dasharray="13.5 13.5" stroke-dashoffset="20.50"/>
<path d="M313.60 1645.20L350.10 1623.30" stroke="#000" stroke-width="1.4" fill="none"/>
<path d="M372.70 1609.30L334.20 1616.60L350.10 1623.30L347.50 1639.90Z" fill="#000" stroke="#000" stroke-width="0.6"/>
<g transform="translate(216.60,1680.70)" fill="#000"><path fill-rule="evenodd" d="M7.8 -16.8A7.8 8.4 0 1 0 7.8 0A7.8 8.4 0 1 0 7.8 -16.8ZM7.8 -15.3A4.9 6.9 -35 1 1 7.8 -1.5A4.9 6.9 -35 1 1 7.8 -15.3Z"/><path d="M7 -16.8H20.6L20.3 -14.5L8.2 -14.6Z"/></g>
<text x="237.24" y="1699.70" style='font-family:"Liberation Serif",serif;font-size:30.50px' fill="#000">0</text>
<text x="252.66" y="1680.70" style='font-family:"Liberation Serif",serif;font-size:39.00px' fill="#000">&#39;</text>
<text x="260.20" y="1680.70" style='font-family:"Liberation Serif",serif;font-size:39.00px' fill="#000">/</text>
<g transform="translate(271.10,1680.70) scale(1.110)" fill="none" stroke="#000"><path d="M0.3 -8.9C1.8 -12.6 4 -14.6 6.2 -14.6C10 -14.6 12.2 -10 12.2 -5C12.2 0 11 4.5 10.2 7" stroke-width="1.9"/><path d="M17.2 -14.8L10.2 7" stroke-width="1.25"/></g>
<text x="291.17" y="1699.70" style='font-family:"Liberation Serif",serif;font-size:30.50px' fill="#000">w</text>
<text x="521.11" y="1659.50" style='font-family:"Liberation Serif",serif;font-style:italic;font-size:38.50px' fill="#000">t</text>
<text x="531.28" y="1659.50" style='font-family:"Liberation Serif",serif;font-size:38.50px' fill="#000">=</text>
<text x="555.11" y="1659.50" style='font-family:"Liberation Serif",serif;font-size:38.50px' fill="#000">100</text>
<text x="612.76" y="1659.50" style='font-family:"Liberation Serif",serif;font-style:italic;font-size:38.50px' fill="#000">T</text>
<path d="M434.30 1359.30 L539.20 1359.30" fill="none" stroke="#ff0000" stroke-width="3.00" stroke-linejoin="round" stroke-linecap="butt"/>
<text x="546.74" y="1370.60" style='font-family:"Liberation Serif",serif;font-style:italic;font-size:32.00px' fill="#000">d</text>
<path d="M564.50 1358.00H580.40M564.50 1363.00H580.40" stroke="#000" stroke-width="1.45" fill="none"/>
<text x="581.98" y="1370.60" style='font-family:"Liberation Serif",serif;font-size:32.00px' fill="#000">1</text>
<text x="597.78" y="1370.60" style='font-family:"Liberation Serif",serif;font-size:32.00px' fill="#000">1</text>
<text x="612.43" y="1370.60" style='font-family:"Liberation Serif",serif;font-size:32.00px' fill="#000">m</text>
<path d="M434.30 1397.10 L539.20 1397.10" fill="none" stroke="#ff0000" stroke-width="3.00" stroke-linejoin="round" stroke-linecap="butt" stroke-dasharray="13.5 13.5"/>
<text x="546.74" y="1408.40" style='font-family:"Liberation Serif",serif;font-style:italic;font-size:32.00px' fill="#000">d</text>
<path d="M564.50 1395.80H580.40M564.50 1400.80H580.40" stroke="#000" stroke-width="1.45" fill="none"/>
<text x="581.98" y="1408.40" style='font-family:"Liberation Serif",serif;font-size:32.00px' fill="#000">1</text>
<text x="596.96" y="1408.40" style='font-family:"Liberation Serif",serif;font-size:32.00px' fill="#000">3</text>
<text x="612.43" y="1408.40" style='font-family:"Liberation Serif",serif;font-size:32.00px' fill="#000">m</text>
<path d="M434.30 1434.40 L539.20 1434.40" fill="none" stroke="#0000ff" stroke-width="3.00" stroke-linejoin="round" stroke-linecap="butt"/>
<text x="546.74" y="1445.70" style='font-family:"Liberation Serif",serif;font-style:italic;font-size:32.00px' fill="#000">d</text>
<path d="M564.50 1433.10H580.40M564.50 1438.10H580.40" stroke="#000" stroke-width="1.45" fill="none"/>
<text x="581.98" y="1445.70" style='font-family:"Liberation Serif",serif;font-size:32.00px' fill="#000">1</text>
<text x="596.64" y="1445.70" style='font-family:"Liberation Serif",serif;font-size:32.00px' fill="#000">5</text>
<text x="612.43" y="1445.70" style='font-family:"Liberation Serif",serif;font-size:32.00px' fill="#000">m</text>
<path d="M434.30 1472.60 L539.20 1472.60" fill="none" stroke="#0000ff" stroke-width="3.00" stroke-linejoin="round" stroke-linecap="butt" stroke-dasharray="13.5 13.5"/>
<text x="546.74" y="1483.90" style='font-family:"Liberation Serif",serif;font-style:italic;font-size:32.00px' fill="#000">d</text>
<path d="M564.50 1471.30H580.40M564.50 1476.30H580.40" stroke="#000" stroke-width="1.45" fill="none"/>
<text x="581.98" y="1483.90" style='font-family:"Liberation Serif",serif;font-size:32.00px' fill="#000">1</text>
<text x="596.39" y="1483.90" style='font-family:"Liberation Serif",serif;font-size:32.00px' fill="#000">7</text>
<text x="612.43" y="1483.90" style='font-family:"Liberation Serif",serif;font-size:32.00px' fill="#000">m</text>
<text x="105.30" y="1830.10" style='font-family:"Liberation Serif",serif;font-size:32.00px' fill="#262626" text-anchor="middle">0</text>
<text x="218.24" y="1830.10" style='font-family:"Liberation Serif",serif;font-size:32.00px' fill="#262626" text-anchor="middle">200</text>
<text x="331.18" y="1830.10" style='font-family:"Liberation Serif",serif;font-size:32.00px' fill="#262626" text-anchor="middle">400</text>
<text x="444.12" y="1830.10" style='font-family:"Liberation Serif",serif;font-size:32.00px' fill="#262626" text-anchor="middle">600</text>
<text x="557.06" y="1830.10" style='font-family:"Liberation Serif",serif;font-size:32.00px' fill="#262626" text-anchor="middle">800</text>
<text x="670.00" y="1830.10" style='font-family:"Liberation Serif",serif;font-size:32.00px' fill="#262626" text-anchor="middle">1000</text>
<text x="95.50" y="1323.60" style='font-family:"Liberation Serif",serif;font-size:32.00px' fill="#262626" text-anchor="end">0</text>
<text x="95.50" y="1483.10" style='font-family:"Liberation Serif",serif;font-size:32.00px' fill="#262626" text-anchor="end">-5</text>
<text x="95.50" y="1642.60" style='font-family:"Liberation Serif",serif;font-size:32.00px' fill="#262626" text-anchor="end">-10</text>
<text x="95.50" y="1802.10" style='font-family:"Liberation Serif",serif;font-size:32.00px' fill="#262626" text-anchor="end">-15</text>
<text x="322.24" y="1870.30" style='font-family:"Liberation Serif",serif;font-style:italic;font-size:34.60px' fill="#262626">p</text>
<text x="338.00" y="1870.30" style='font-family:"Liberation Serif",serif;font-size:34.60px' fill="#262626">/</text>
<g transform="translate(349.15,1870.30) scale(1.000)" fill="none" stroke="#262626"><path d="M0.3 -8.9C1.8 -12.6 4 -14.6 6.2 -14.6C10 -14.6 12.2 -10 12.2 -5C12.2 0 11 4.5 10.2 7" stroke-width="1.9"/><path d="M17.2 -14.8L10.2 7" stroke-width="1.25"/></g>
<text x="367.17" y="1886.90" style='font-family:"Liberation Serif",serif;font-size:26.60px' fill="#262626">w</text>
<text x="387.68" y="1870.30" style='font-family:"Liberation Serif",serif;font-size:34.60px' fill="#262626">(cm)</text>
<text transform="translate(38.80,1632.00) rotate(-90)" style='font-family:"Liberation Serif",serif;font-size:34.60px' fill="#262626">Depth</text>
<text transform="translate(38.80,1537.92) rotate(-90)" style='font-family:"Liberation Serif",serif;font-style:italic;font-size:34.60px' fill="#262626">z</text>
<text transform="translate(38.80,1523.12) rotate(-90)" style='font-family:"Liberation Serif",serif;font-size:34.60px' fill="#262626">(m)</text>
<path d="M848.20 1343.02 L1036.47 1390.87 L1224.73 1438.72 L1413.00 1549.74" fill="none" stroke="#000000" stroke-width="2.80" stroke-linejoin="round" stroke-linecap="butt"/>
<circle cx="848.20" cy="1343.02" r="10.5" fill="none" stroke="#000000" stroke-width="2.9"/>
<circle cx="1036.47" cy="1390.87" r="10.5" fill="none" stroke="#000000" stroke-width="2.9"/>
<circle cx="1224.73" cy="1438.72" r="10.5" fill="none" stroke="#000000" stroke-width="2.9"/>
<circle cx="1413.00" cy="1549.74" r="10.5" fill="none" stroke="#000000" stroke-width="2.9"/>
<rect x="848.20" y="1312.40" width="564.80" height="478.50" fill="none" stroke="#262626" stroke-width="1.80"/>
<path d="M848.20 1790.90v-6.50M848.20 1312.40v6.50M942.33 1790.90v-6.50M942.33 1312.40v6.50M1036.47 1790.90v-6.50M1036.47 1312.40v6.50M1130.60 1790.90v-6.50M1130.60 1312.40v6.50M1224.73 1790.90v-6.50M1224.73 1312.40v6.50M1318.87 1790.90v-6.50M1318.87 1312.40v6.50M1413.00 1790.90v-6.50M1413.00 1312.40v6.50M848.20 1790.90h6.50M1413.00 1790.90h-6.50M848.20 1695.20h6.50M1413.00 1695.20h-6.50M848.20 1599.50h6.50M1413.00 1599.50h-6.50M848.20 1503.80h6.50M1413.00 1503.80h-6.50M848.20 1408.10h6.50M1413.00 1408.10h-6.50M848.20 1312.40h6.50M1413.00 1312.40h-6.50" stroke="#262626" stroke-width="1.80" fill="none"/>
<text x="848.20" y="1830.10" style='font-family:"Liberation Serif",serif;font-size:32.00px' fill="#262626" text-anchor="middle">11</text>
<text x="942.33" y="1830.10" style='font-family:"Liberation Serif",serif;font-size:32.00px' fill="#262626" text-anchor="middle">12</text>
<text x="1036.47" y="1830.10" style='font-family:"Liberation Serif",serif;font-size:32.00px' fill="#262626" text-anchor="middle">13</text>
<text x="1130.60" y="1830.10" style='font-family:"Liberation Serif",serif;font-size:32.00px' fill="#262626" text-anchor="middle">14</text>
<text x="1224.73" y="1830.10" style='font-family:"Liberation Serif",serif;font-size:32.00px' fill="#262626" text-anchor="middle">15</text>
<text x="1318.87" y="1830.10" style='font-family:"Liberation Serif",serif;font-size:32.00px' fill="#262626" text-anchor="middle">16</text>
<text x="1413.00" y="1830.10" style='font-family:"Liberation Serif",serif;font-size:32.00px' fill="#262626" text-anchor="middle">17</text>
<text x="838.40" y="1802.10" style='font-family:"Liberation Serif",serif;font-size:32.00px' fill="#262626" text-anchor="end">0</text>
<text x="838.40" y="1706.40" style='font-family:"Liberation Serif",serif;font-size:32.00px' fill="#262626" text-anchor="end">1</text>
<text x="838.40" y="1610.70" style='font-family:"Liberation Serif",serif;font-size:32.00px' fill="#262626" text-anchor="end">2</text>
<text x="838.40" y="1515.00" style='font-family:"Liberation Serif",serif;font-size:32.00px' fill="#262626" text-anchor="end">3</text>
<text x="838.40" y="1419.30" style='font-family:"Liberation Serif",serif;font-size:32.00px' fill="#262626" text-anchor="end">4</text>
<text x="838.40" y="1323.60" style='font-family:"Liberation Serif",serif;font-size:32.00px' fill="#262626" text-anchor="end">5</text>
<text transform="translate(793.80,1727.40) rotate(-90)" style='font-family:"Liberation Serif",serif;font-size:34.60px' fill="#262626">Liquefaction depth</text>
<text transform="translate(793.80,1456.72) rotate(-90)" style='font-family:"Liberation Serif",serif;font-style:italic;font-size:34.60px' fill="#262626">z</text>
<text transform="translate(810.20,1442.89) rotate(-90)" style='font-family:"Liberation Serif",serif;font-style:italic;font-size:26.10px' fill="#262626">L</text>
<text transform="translate(793.80,1426.92) rotate(-90)" style='font-family:"Liberation Serif",serif;font-size:34.60px' fill="#262626">(m)</text>
<text x="1008.07" y="1869.70" style='font-family:"Liberation Serif",serif;font-size:34.60px' fill="#262626">Water depth</text>
<text x="1185.86" y="1869.70" style='font-family:"Liberation Serif",serif;font-style:italic;font-size:34.60px' fill="#262626">d</text>
<text x="1203.88" y="1869.70" style='font-family:"Liberation Serif",serif;font-size:34.60px' fill="#262626">(m)</text>
</svg></body></html>
